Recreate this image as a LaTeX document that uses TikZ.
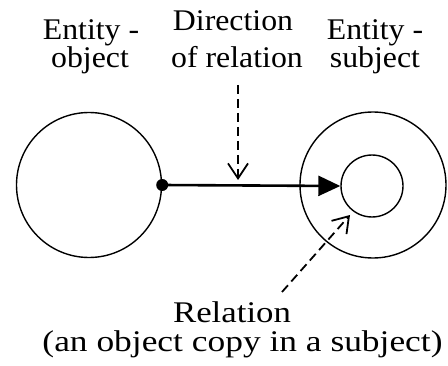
\documentclass[tikz,border=0pt]{standalone}
\usepackage{fontspec}
\setmainfont{Liberation Serif}
\usetikzlibrary{arrows.meta}
\newcommand\hstretch[2]{\scalebox{#1}[1]{#2}}
\tikzset{
  lbl/.style={anchor=base, inner sep=0pt, font=\fontsize{30}{30}\selectfont},
  topline/.style={lbl, text depth=0pt},
  ring/.style={draw, line width=1.4pt},
  mainarrow/.style={line width=2.6pt, -{Triangle[length=22pt,width=20pt]}, shorten >=0pt},
  dasharrow/.style={line width=1.8pt, dash pattern=on 9pt off 5pt, -{Straight Barb[length=15pt,width=20pt,line width=1.8pt]}},
}
\begin{document}
\begin{tikzpicture}[x=1pt,y=1pt]
\useasboundingbox (0,0) rectangle (448,365);
% labels
\node[topline] (l1) at (91,325) {\hstretch{1.06}{Entity -}};
\node[lbl] (l2) at (90,297) {\hstretch{1.06}{object}};
\node[topline] (d1) at (233,334) {\hstretch{1.06}{Direction}};
\node[lbl] (d2) at (237,297) {\hstretch{1.06}{of relation}};
\node[topline] (r1) at (375,325) {\hstretch{1.06}{Entity -}};
\node[lbl] (r2) at (375,297) {\hstretch{1.06}{subject}};
\node[topline] (b1) at (232,43) {\hstretch{1.16}{Relation}};
\node[lbl] (b2) at (242.5,14) {\hstretch{1.18}{(an object copy in a subject)}};
% circles
\node[ring, circle, minimum size=145pt, inner sep=0pt] (obj) at (89,180) {};
\node[ring, circle, minimum size=146pt, inner sep=0pt] (subj) at (373,180) {};
\node[ring, circle, minimum size=62pt, inner sep=0pt] (copy) at (372,179) {};
% connectors
\coordinate (dotc) at (obj.east);
\fill (dotc) circle (6pt);
\draw[mainarrow] (dotc) -- (copy.west);
\coordinate (dtop) at (238,280);
\coordinate (dtip) at (238,185);
\draw[dasharrow] (dtop) -- (dtip);
\coordinate (rstart) at (282,73);
\coordinate (rtip) at (350,150);
\draw[dasharrow] (rstart) -- (rtip);
\end{tikzpicture}
\end{document}
